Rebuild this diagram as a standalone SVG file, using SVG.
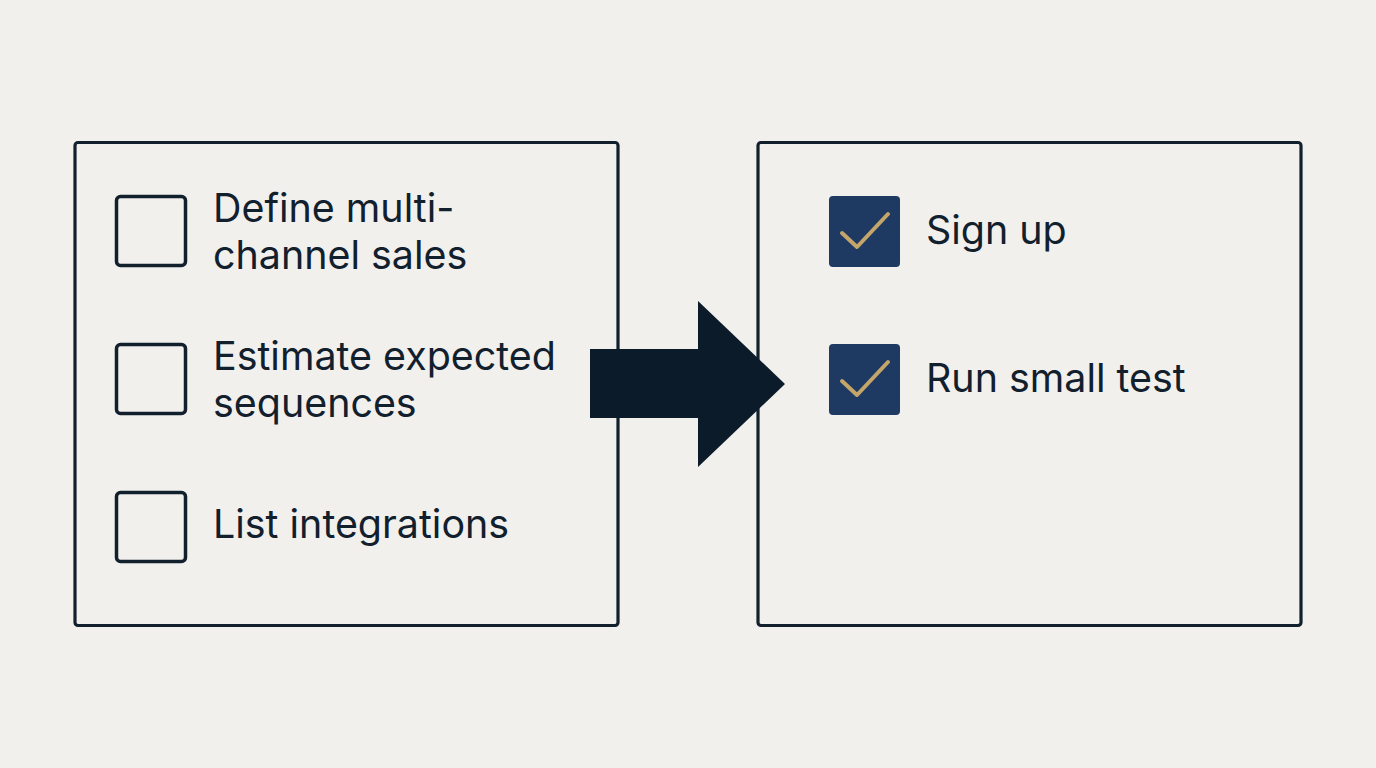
<svg xmlns="http://www.w3.org/2000/svg" width="1376" height="768" viewBox="0 0 1376 768">
<style>
.panel{fill:none;stroke:#12202e;stroke-width:3.2}
.box{fill:none;stroke:#12202e;stroke-width:3.5}
.done{fill:#1f3a62}
.tick{fill:none;stroke:#c4a56a;stroke-width:4;stroke-linecap:round;stroke-linejoin:round}
.t{font-family:Inter,"Liberation Sans",sans-serif;font-size:39.4px;fill:#12202e}
</style>
<rect width="1376" height="768" fill="#f1f0ed"/>
<g id="left-panel">
<rect class="panel" x="75" y="142.5" width="543" height="483" rx="3"/>
</g>
<g id="right-panel">
<rect class="panel" x="758" y="142.5" width="543" height="483" rx="3"/>
</g>
<g id="item-define">
<rect class="box" x="116.5" y="196.5" width="69" height="69" rx="4"/>
<text class="t" x="213" y="222">Define multi-</text>
<text class="t" x="213" y="269">channel sales</text>
</g>
<g id="item-estimate">
<rect class="box" x="116.5" y="344.5" width="69" height="69" rx="4"/>
<text class="t" x="213" y="370">Estimate expected</text>
<text class="t" x="213" y="417">sequences</text>
</g>
<g id="item-list">
<rect class="box" x="116.5" y="492.5" width="69" height="69" rx="4"/>
<text class="t" x="213" y="538">List integrations</text>
</g>
<g id="item-signup">
<rect class="done" x="829" y="196" width="71" height="71" rx="4"/>
<path class="tick" d="M842 233 L857 247 L888 214"/>
<text class="t" x="926" y="244">Sign up</text>
</g>
<g id="item-run">
<rect class="done" x="829" y="344" width="71" height="71" rx="4"/>
<path class="tick" d="M842 381 L857 395 L888 362"/>
<text class="t" x="926" y="392">Run small test</text>
</g>
<g id="connectors">
<polygon fill="#0c1b2a" points="590,349 698,349 698,301 785,384 698,467 698,418 590,418"/>
</g>
</svg>
